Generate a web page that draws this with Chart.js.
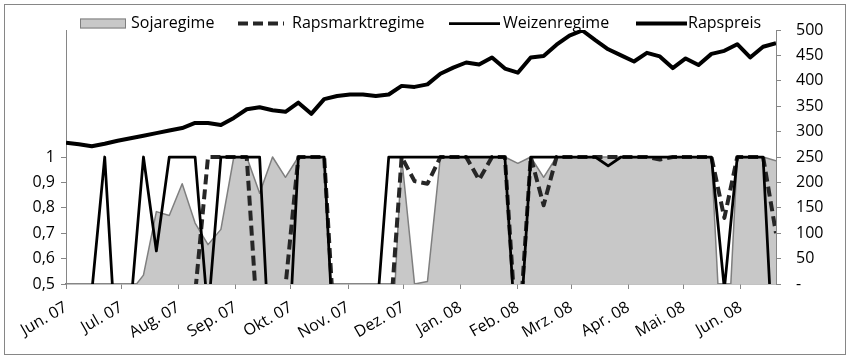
<!DOCTYPE html>
<html>
<head>
<meta charset="utf-8">
<script src="https://cdn.jsdelivr.net/npm/chart.js@4.4.1/dist/chart.umd.min.js"></script>
<style>
  html, body { margin: 0; padding: 0; background: #ffffff; }
  #wrap { position: relative; width: 850px; height: 359px; }
</style>
</head>
<body>
<div id="wrap"><canvas id="chart" width="850" height="359"></canvas></div>
<script>
// Weekly observation dates (Fridays)
const weekDates = [
  '2007-06-01','2007-06-08','2007-06-15','2007-06-22','2007-06-29',
  '2007-07-06','2007-07-13','2007-07-20','2007-07-27',
  '2007-08-03','2007-08-10','2007-08-17','2007-08-24','2007-08-31',
  '2007-09-07','2007-09-14','2007-09-21','2007-09-28',
  '2007-10-05','2007-10-12','2007-10-19','2007-10-26',
  '2007-11-02','2007-11-09','2007-11-16','2007-11-23','2007-11-30',
  '2007-12-07','2007-12-14','2007-12-21','2007-12-28',
  '2008-01-04','2008-01-11','2008-01-18','2008-01-25',
  '2008-02-01','2008-02-08','2008-02-15','2008-02-22','2008-02-29',
  '2008-03-07','2008-03-14','2008-03-21','2008-03-28',
  '2008-04-04','2008-04-11','2008-04-18','2008-04-25',
  '2008-05-02','2008-05-09','2008-05-16','2008-05-23','2008-05-30',
  '2008-06-06','2008-06-13','2008-06-20'
];

// Month ticks on the date axis
const monthStarts = [
  '2007-06-01','2007-07-01','2007-08-01','2007-09-01','2007-10-01','2007-11-01',
  '2007-12-01','2008-01-01','2008-02-01','2008-03-01','2008-04-01','2008-05-01','2008-06-01'
];
const monthLabels = ['Jun. 07','Jul. 07','Aug. 07','Sep. 07','Okt. 07','Nov. 07','Dez. 07',
                     'Jan. 08','Feb. 08','Mrz. 08','Apr. 08','Mai. 08','Jun. 08'];

// Regime probabilities (left axis)
const sojaregime = [
  0.40, 0.40, 0.42, 0.44, 0.45, 0.47, 0.535, 0.785, 0.77, 0.895,
  0.74, 0.655, 0.715, 1.00, 1.00, 0.857, 1.00, 0.92, 1.00, 1.00,
  1.00, 0.05, 0.02, 0.02, 0.02, 0.02, 1.00, 0.50, 0.51, 1.00,
  1.00, 1.00, 1.00, 1.00, 1.00, 0.975, 1.00, 0.92, 1.00, 1.00,
  1.00, 1.00, 1.00, 1.00, 1.00, 1.00, 1.00, 1.00, 1.00, 1.00,
  1.00, 0.00, 1.00, 1.00, 1.00, 0.985
];
const rapsmarktregime = [
  0.10, 0.10, 0.15, 0.10, 0.20, 0.15, 0.10, 0.20, 0.30, 0.35,
  0.46, 1.00, 1.00, 1.00, 1.00, 0.22, 0.10, 0.49, 1.00, 1.00,
  1.00, 0.14, 0.05, 0.05, 0.10, 0.275, 1.00, 0.905, 0.895, 1.00,
  1.00, 1.00, 0.91, 1.00, 1.00, 0.22, 1.00, 0.81, 1.00, 1.00,
  1.00, 1.00, 1.00, 1.00, 1.00, 1.00, 0.99, 1.00, 1.00, 1.00,
  1.00, 0.76, 1.00, 1.00, 1.00, 0.70
];
const weizenregime = [
  0.20, 0.30, 0.47, 1.00, 0.15, 0.405, 1.00, 0.63, 1.00, 1.00,
  1.00, 0.38, 1.00, 1.00, 1.00, 1.00, 0.00, 0.00, 1.00, 1.00,
  1.00, 0.00, 0.05, 0.10, 0.33, 1.00, 1.00, 1.00, 1.00, 1.00,
  1.00, 1.00, 1.00, 1.00, 1.00, 0.15, 1.00, 1.00, 1.00, 1.00,
  1.00, 1.00, 0.965, 1.00, 1.00, 1.00, 1.00, 1.00, 1.00, 1.00,
  1.00, 0.48, 1.00, 1.00, 1.00, 0.00
];

// Rapeseed price (right axis)
const rapspreis = [
  278, 275, 271, 276, 282, 287, 292, 297, 302, 307,
  317, 317, 313, 327, 344, 348, 342, 339, 357, 335,
  364, 370, 373, 373, 370, 373, 390, 388, 393, 414,
  426, 436, 432, 446, 424, 416, 446, 449, 471, 489,
  499, 480, 462, 450, 438, 455, 448, 425, 444, 431,
  453, 459, 472, 446, 467, 474
];

const leftTickLabels = ['0,5', '0,6', '0,7', '0,8', '0,9', '1'];
const rightTickLabels = ['-', '50', '100', '150', '200', '250', '300', '350', '400', '450', '500'];

// ---------------------------------------------------------------
const DAY = 86400000;
const origin = Date.UTC(2007, 5, 1);
function dayOf(s) {
  const [y, m, d] = s.split('-').map(Number);
  return Math.round((Date.UTC(y, m - 1, d) - origin) / DAY);
}
const weekDays = weekDates.map(dayOf);
const monthDays = monthStarts.map(dayOf);
const series = vals => vals.map((v, i) => ({ x: weekDays[i], y: v }));

const FONT = '"Open Sans", "Noto Sans", sans-serif';
const AXIS = '#868686';
const TEXT = '#000000';

// legend drawn above the plot, one entry per dataset
const legendPlugin = {
  id: 'topLegend',
  afterDraw(chart) {
    const ctx = chart.ctx;
    const symX = [80, 238, 449, 636];
    const symW = [46, 46, 51, 51];
    const txtX = [131, 292, 503, 688];
    const cy = 23.5;
    ctx.save();
    chart.data.datasets.forEach((ds, i) => {
      if (ds.fill) {
        ctx.fillStyle = ds.backgroundColor;
        ctx.fillRect(symX[i], cy - 5, symW[i], 10);
        ctx.strokeStyle = ds.borderColor;
        ctx.lineWidth = 1;
        ctx.strokeRect(symX[i] + 0.5, cy - 4.5, symW[i] - 1, 9);
      } else {
        ctx.strokeStyle = ds.borderColor;
        ctx.lineWidth = ds.borderWidth;
        ctx.setLineDash(ds.borderDash || []);
        ctx.lineCap = 'butt';
        ctx.beginPath();
        ctx.moveTo(symX[i], cy);
        ctx.lineTo(symX[i] + symW[i], cy);
        ctx.stroke();
        ctx.setLineDash([]);
      }
      ctx.fillStyle = TEXT;
      ctx.font = '16px ' + FONT;
      ctx.textBaseline = 'middle';
      ctx.textAlign = 'left';
      ctx.fillText(ds.label, txtX[i], cy);
    });
    ctx.restore();
  }
};

// thin outer frame of the chart
const framePlugin = {
  id: 'frame',
  afterDraw(chart) {
    const ctx = chart.ctx;
    ctx.save();
    ctx.strokeStyle = AXIS;
    ctx.lineWidth = 1;
    ctx.strokeRect(4.5, 4.5, chart.width - 9, chart.height - 9);
    ctx.restore();
  }
};

new Chart(document.getElementById('chart'), {
  type: 'line',
  data: {
    datasets: [
      {
        label: 'Sojaregime',
        data: series(sojaregime),
        yAxisID: 'yL',
        fill: 'start',
        backgroundColor: '#c8c8c8',
        borderColor: '#7f7f7f',
        borderWidth: 1.5,
        order: 4,
        clip: 0
      },
      {
        label: 'Rapsmarktregime',
        data: series(rapsmarktregime),
        yAxisID: 'yL',
        fill: false,
        borderColor: '#262626',
        borderWidth: 4,
        borderDash: [10, 5],
        order: 3,
        clip: 0
      },
      {
        label: 'Weizenregime',
        data: series(weizenregime),
        yAxisID: 'yL',
        fill: false,
        borderColor: '#000000',
        borderWidth: 2.75,
        order: 2,
        clip: 0
      },
      {
        label: 'Rapspreis',
        data: series(rapspreis),
        yAxisID: 'yR',
        fill: false,
        borderColor: '#000000',
        borderWidth: 4,
        order: 1
      }
    ]
  },
  options: {
    responsive: false,
    animation: false,
    layout: { padding: { top: 30, left: 0, right: 0, bottom: 0 } },
    elements: {
      point: { radius: 0, hoverRadius: 0 },
      line: { tension: 0, borderJoinStyle: 'round' }
    },
    plugins: { legend: { display: false }, tooltip: { enabled: false } },
    scales: {
      x: {
        type: 'linear',
        min: weekDays[0],
        max: weekDays[weekDays.length - 1],
        afterBuildTicks: s => { s.ticks = monthDays.map(v => ({ value: v })); },
        afterFit: s => { s.height = 75; },
        ticks: {
          autoSkip: false,
          minRotation: 30,
          maxRotation: 30,
          padding: 9,
          color: TEXT,
          font: { family: FONT, size: 16 },
          callback: (v, i) => monthLabels[i]
        },
        grid: { drawOnChartArea: false, drawTicks: true, tickLength: 5, color: AXIS },
        border: { display: true, color: AXIS, width: 1.5 }
      },
      yL: {
        position: 'left',
        min: 0.5,
        max: 1.5,
        afterFit: s => { s.width = 66; },
        ticks: {
          stepSize: 0.1,
          padding: 6,
          color: TEXT,
          font: { family: FONT, size: 16 },
          callback: (v, i) => (i < leftTickLabels.length ? leftTickLabels[i] : '')
        },
        grid: {
          drawOnChartArea: false,
          tickLength: 5,
          tickColor: c => (c.tick && c.tick.value <= 1.0001 ? AXIS : 'rgba(0,0,0,0)')
        },
        border: { display: true, color: AXIS, width: 1 }
      },
      yR: {
        position: 'right',
        min: 0,
        max: 500,
        afterFit: s => { s.width = 74; },
        ticks: {
          stepSize: 50,
          padding: 15,
          color: TEXT,
          font: { family: FONT, size: 16 },
          callback: (v, i) => rightTickLabels[i]
        },
        grid: { drawOnChartArea: false, tickLength: 5, color: AXIS },
        border: { display: true, color: AXIS, width: 1 }
      }
    }
  },
  plugins: [legendPlugin, framePlugin]
});
</script>
</body>
</html>
